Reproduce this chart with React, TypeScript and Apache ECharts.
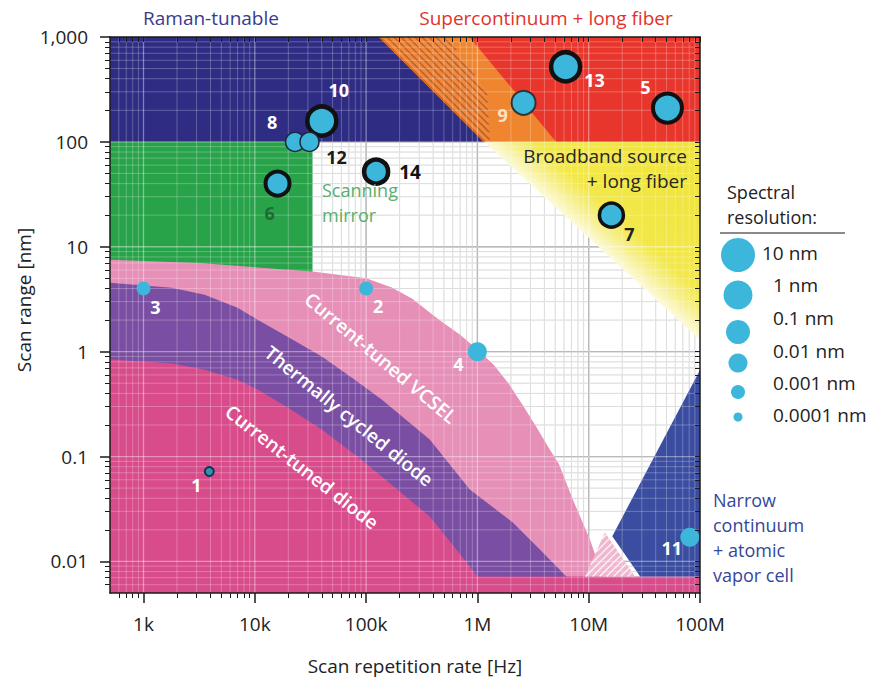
import React, { useEffect, useRef } from 'react';
import * as echarts from 'echarts';

// ---------- axes ----------
const xMin = 500;
const xMax = 1e8;
const yMin = 0.005;
const yMax = 1000;
const xTickValues = [1e3, 1e4, 1e5, 1e6, 1e7, 1e8];
const xTickLabels = ['1k', '10k', '100k', '1M', '10M', '100M'];
const yTickValues = [0.01, 0.1, 1, 10, 100, 1000];
const yTickLabels = ['0.01', '0.1', '1', '10', '100', '1,000'];

// ---------- data points (rate Hz, range nm, resolution nm) ----------
const pointIds = ['1', '2', '3', '4', '5', '6', '7', '8', '9', '10', '11', '12', '13', '14'];
const pointRateHz = [3.9e3, 1.0e5, 1.0e3, 1.0e6, 5.1e7, 1.6e4, 1.6e7, 2.3e4, 2.6e6, 4.0e4, 8.1e7, 3.1e4, 6.2e6, 1.23e5];
const pointRangeNm = [0.072, 4, 4, 1.0, 210, 40, 20, 100, 236, 158, 0.017, 100, 520, 52];
const pointResolutionNm = [1e-4, 1e-3, 1e-3, 1e-2, 1, 0.1, 0.1, 0.01, 0.1, 1, 0.01, 0.01, 1, 0.1];

// ---------- legend ----------
const legendResolutionNm = [10, 1, 0.1, 0.01, 0.001, 0.0001];
const legendLabels = ['10 nm', '1 nm', '0.1 nm', '0.01 nm', '0.001 nm', '0.0001 nm'];

// ---------- regions (vertices in Hz, nm) ----------
const mirrorRegion = [[500, 3], [3.3e4, 3], [3.3e4, 100], [500, 100]];
const ramanRegion = [[500, 100], [500, 1000], [1.3e5, 1000], [1.15e6, 100]];
const supercontinuumRegion = [[1.3e5, 1000], [1e8, 1000], [1e8, 100], [1.15e6, 100]];
const orangeBand = [[1.3e5, 1000], [8.5e5, 1000], [5.1e6, 100], [1.15e6, 100]];
const orangeHatch = [[1.3e5, 1000], [5.3e5, 1000], [1.22e6, 293], [1.29e6, 100], [1.15e6, 100]];
const broadbandRegion = [[1.15e6, 100], [1e8, 100], [1e8, 1.3]];
const vcselTop = [[500, 7.5], [3.2e3, 7.0], [3.3e4, 5.8], [1e5, 5.0], [1.7e5, 4.1], [2.6e5, 3.2], [4.55e5, 2.0], [7.0e5, 1.45], [1.0e6, 1.05], [1.4e6, 0.75], [1.9e6, 0.5], [2.6e6, 0.3], [3.4e6, 0.19], [4.4e6, 0.12], [5.4e6, 0.085], [7.2e6, 0.039], [1.03e7, 0.016], [1.34e7, 0.0071]];
const thermalTop = [[500, 4.54], [1.79e3, 4.07], [3.54e3, 3.49], [7.0e3, 2.62], [1.06e4, 2.02], [1.97e4, 1.39], [4.0e4, 0.9], [7.9e4, 0.54], [1.38e5, 0.35], [3.73e5, 0.145], [8.55e5, 0.0485], [2.08e6, 0.0235], [3.64e6, 0.013], [6.3e6, 0.0072]];
const diodeTop = [[500, 0.84], [1.79e3, 0.769], [3.54e3, 0.674], [7.0e3, 0.541], [1.06e4, 0.435], [1.97e4, 0.293], [4.0e4, 0.181], [7.9e4, 0.1045], [1.38e5, 0.0645], [3.73e5, 0.0268], [6.27e5, 0.0136], [1.0e6, 0.0072]];
const vaporRegion = [[1e8, 0.67], [1.63e7, 0.0174], [2.9e7, 0.0072], [1e8, 0.0072]];
const vaporHatch = [[1.4e7, 0.0189], [2.6e7, 0.0072], [9.25e6, 0.0072]];

// ---------- styles ----------
const FONT = '"Open Sans", "Noto Sans", sans-serif';
const BUBBLE = '#3cb6db';
const L = Math.log10;

const pointLook: Record<string, any> = {
  '1': { fill: '#2b97a6', ring: '#1c2c5c', bw: 2, off: [-13, 13] },
  '2': { off: [12, 17] },
  '3': { off: [12, 18] },
  '4': { off: [-19, 12] },
  '5': { ring: '#111', bw: 4, off: [-22, -21] },
  '6': { ring: '#111', bw: 4, off: [-8, 29], lc: '#1e6a34' },
  '7': { ring: '#111', bw: 3.5, off: [18, 19], lc: '#222' },
  '8': { ring: '#1a2a40', bw: 1.5, off: [-23, -20] },
  '9': { ring: '#333', bw: 2, off: [-21, 12], lc: '#fde2c6' },
  '10': { ring: '#111', bw: 4.5, off: [17, -31] },
  '11': { off: [-18, 11] },
  '12': { ring: '#1a2a40', bw: 1.5, off: [27, 15], lc: '#1a1a1a' },
  '13': { ring: '#111', bw: 4.5, off: [29, 13] },
  '14': { ring: '#111', bw: 4.5, off: [34, 0], lc: '#111', size: 19 },
};

function radiusFor(res: number) {
  return 4.5 + 2.5 * (L(res) + 4);
}

function hatchLines(pts: number[][], a: number, b: number, spacing: number) {
  const vals = pts.map((p) => a * p[0] + b * p[1]);
  const lo = Math.min(...vals);
  const hi = Math.max(...vals);
  const out: number[][][] = [];
  for (let c = Math.ceil(lo / spacing) * spacing; c <= hi; c += spacing) {
    const hits: number[][] = [];
    for (let i = 0; i < pts.length; i++) {
      const p = pts[i];
      const q = pts[(i + 1) % pts.length];
      const fp = a * p[0] + b * p[1] - c;
      const fq = a * q[0] + b * q[1] - c;
      if ((fp <= 0 && fq > 0) || (fp > 0 && fq <= 0)) {
        const t = fp / (fp - fq);
        hits.push([p[0] + t * (q[0] - p[0]), p[1] + t * (q[1] - p[1])]);
      }
    }
    if (hits.length >= 2) {
      hits.sort((m, n) => m[0] - n[0]);
      out.push([hits[0], hits[hits.length - 1]]);
    }
  }
  return out;
}

function regionSeries(verts: number[][], fill: any, hatch?: any) {
  return {
    type: 'custom',
    coordinateSystem: 'cartesian2d',
    xAxisIndex: 0,
    yAxisIndex: 0,
    silent: true,
    z: 2,
    data: [[L(xMin), L(yMin)]],
    renderItem: (params: any, api: any) => {
      const pts = verts.map((v) => api.coord([L(v[0]), L(v[1])]));
      const children: any[] = [{ type: 'polygon', shape: { points: pts }, style: { fill, stroke: 'none' } }];
      if (hatch) {
        for (const [p, q] of hatchLines(pts, hatch.a, hatch.b, hatch.spacing)) {
          children.push({
            type: 'line',
            shape: { x1: p[0], y1: p[1], x2: q[0], y2: q[1] },
            style: { stroke: hatch.color, lineWidth: hatch.width },
          });
        }
      }
      return { type: 'group', children };
    },
  };
}

const xMinorValues: number[] = [];
for (let d = 2; d <= 7; d++) for (let k = 2; k <= 9; k++) {
  const v = k * Math.pow(10, d);
  if (v > xMin && v < xMax) xMinorValues.push(v);
}
const yMinorValues: number[] = [];
for (let d = -3; d <= 2; d++) for (let k = 2; k <= 9; k++) {
  const v = k * Math.pow(10, d);
  if (v > yMin * 1.0001 && v < yMax) yMinorValues.push(v);
}

function gridSeries(minorColor: string, majorColor: string, z: number) {
  return {
    type: 'custom',
    coordinateSystem: 'cartesian2d',
    xAxisIndex: 0,
    yAxisIndex: 0,
    silent: true,
    z,
    data: [[L(xMin), L(yMin)]],
    renderItem: (params: any, api: any) => {
      const children: any[] = [];
      const vline = (v: number, color: string, w: number) => {
        const p1 = api.coord([L(v), L(yMin)]);
        const p2 = api.coord([L(v), L(yMax)]);
        children.push({ type: 'line', shape: { x1: p1[0], y1: p1[1], x2: p2[0], y2: p2[1] }, style: { stroke: color, lineWidth: w } });
      };
      const hline = (v: number, color: string, w: number) => {
        const p1 = api.coord([L(xMin), L(v)]);
        const p2 = api.coord([L(xMax), L(v)]);
        children.push({ type: 'line', shape: { x1: p1[0], y1: p1[1], x2: p2[0], y2: p2[1] }, style: { stroke: color, lineWidth: w } });
      };
      xMinorValues.forEach((v) => vline(v, minorColor, 1));
      yMinorValues.forEach((v) => hline(v, minorColor, 1));
      xTickValues.filter((v) => v < xMax).forEach((v) => vline(v, majorColor, 1.3));
      yTickValues.filter((v) => v < yMax).forEach((v) => hline(v, majorColor, 1.3));
      return { type: 'group', children };
    },
  };
}

const fmt = (vals: number[], labels: string[]) => (v: number) => {
  const i = vals.findIndex((t) => Math.abs(L(t) - v) < 1e-6);
  return i >= 0 ? labels[i] : '';
};

function buildOption() {
  const axisLineStyle = { color: '#1a1a1a', width: 1.5 };
  const xBase = { type: 'value', min: L(xMin), max: L(xMax), gridIndex: 0, splitLine: { show: false }, z: 10 };
  const yBase = { type: 'value', min: L(yMin), max: L(yMax), gridIndex: 0, splitLine: { show: false }, z: 10 };
  const xMajor = xTickValues.map(L);
  const yMajor = yTickValues.map(L);
  const xMinor = xMinorValues.map(L);
  const yMinor = yMinorValues.map(L);

  const yellow = new echarts.graphic.LinearGradient(0, 1, 1, 0, [
    { offset: 0.5, color: '#fcfadb' },
    { offset: 0.555, color: '#f7f094' },
    { offset: 0.62, color: '#f2e84a' },
    { offset: 1, color: '#efe336' },
  ]);

  const txt = (text: string, x: number, y: number, o: any = {}) => ({
    type: 'text',
    x,
    y,
    z: 50,
    rotation: o.rot || 0,
    silent: true,
    style: {
      text,
      fill: o.color || '#222',
      fontSize: o.size || 19,
      lineHeight: o.lh || 20,
      fontFamily: FONT,
      fontWeight: o.weight || 'normal',
      align: o.align || 'center',
      verticalAlign: 'middle',
    },
  });
  const deg = Math.PI / 180;

  const graphics: any[] = [
    txt('Raman-tunable', 211, 18, { color: '#3a3a8e' }),
    txt('Supercontinuum + long fiber', 546, 18, { color: '#e2322b' }),
    txt('Broadband source', 687, 156, { align: 'right', color: '#262626' }),
    txt('+ long fiber', 687, 181, { align: 'right', color: '#262626' }),
    txt('Scanning', 322, 190, { align: 'left', color: '#5aae6b', size: 18 }),
    txt('mirror', 322, 215, { align: 'left', color: '#5aae6b', size: 18 }),
    txt('Current-tuned VCSEL', 381, 358, { rot: -40 * deg, color: '#ffffff', weight: 600 }),
    txt('Thermally cycled diode', 349, 416, { rot: -39 * deg, color: '#ffffff', weight: 600 }),
    txt('Current-tuned diode', 302, 467, { rot: -38 * deg, color: '#ffffff', weight: 600 }),
    txt('Narrow', 713, 500, { align: 'left', color: '#34479a', size: 18 }),
    txt('continuum', 713, 525, { align: 'left', color: '#34479a', size: 18 }),
    txt('+ atomic', 713, 550, { align: 'left', color: '#34479a', size: 18 }),
    txt('vapor cell', 713, 575, { align: 'left', color: '#34479a', size: 18 }),
    txt('Spectral', 727, 192, { align: 'left', color: '#222', size: 18 }),
    txt('resolution:', 727, 217, { align: 'left', color: '#222', size: 18 }),
    { type: 'line', z: 50, silent: true, shape: { x1: 720, y1: 233, x2: 845, y2: 233 }, style: { stroke: '#8a8a8a', lineWidth: 2 } },
    txt('Scan repetition rate [Hz]', 415, 666, { color: '#222' }),
    txt('Scan range [nm]', 24, 300, { rot: 90 * deg, color: '#222' }),
  ];
  const legendCircleY = [255, 295, 332, 363, 392, 417];
  const legendTextY = [253, 285, 318, 351, 383, 415];
  legendResolutionNm.forEach((r, i) => {
    graphics.push({
      type: 'circle',
      z: 50,
      silent: true,
      shape: { cx: 738, cy: legendCircleY[i], r: radiusFor(r) },
      style: { fill: BUBBLE },
    });
    graphics.push(txt(legendLabels[i], i === 0 ? 762 : 773, legendTextY[i], { align: 'left', color: '#222' }));
  });

  return {
    animation: false,
    backgroundColor: '#ffffff',
    grid: { left: 110, right: 180, top: 37, bottom: 86, containLabel: false, outerBoundsMode: 'none' },
    xAxis: [
      {
        ...xBase,
        position: 'bottom',
        axisLine: { show: true, onZero: false, lineStyle: axisLineStyle },
        axisTick: { show: true, customValues: xMajor, length: 10, lineStyle: axisLineStyle },
        axisLabel: { show: true, customValues: xMajor, formatter: fmt(xTickValues, xTickLabels), margin: 21, fontSize: 19, color: '#222', fontFamily: FONT },
      },
      {
        ...xBase,
        position: 'bottom',
        axisLine: { show: false, onZero: false },
        axisTick: { show: true, customValues: xMinor, length: 5, lineStyle: { color: '#1a1a1a', width: 1 } },
        axisLabel: { show: false },
      },
      {
        ...xBase,
        position: 'top',
        axisLine: { show: true, onZero: false, lineStyle: axisLineStyle },
        axisTick: { show: true, inside: true, customValues: xMinor.concat(xMajor), length: 5, lineStyle: { color: '#1a1a1a', width: 1 } },
        axisLabel: { show: false },
      },
    ],
    yAxis: [
      {
        ...yBase,
        position: 'left',
        axisLine: { show: true, onZero: false, lineStyle: axisLineStyle },
        axisTick: { show: true, customValues: yMajor, length: 10, lineStyle: axisLineStyle },
        axisLabel: { show: true, customValues: yMajor, formatter: fmt(yTickValues, yTickLabels), margin: 22, fontSize: 19, color: '#222', fontFamily: FONT },
      },
      {
        ...yBase,
        position: 'left',
        axisLine: { show: false, onZero: false },
        axisTick: { show: true, customValues: yMinor, length: 5, lineStyle: { color: '#1a1a1a', width: 1 } },
        axisLabel: { show: false },
      },
      {
        ...yBase,
        position: 'right',
        axisLine: { show: true, onZero: false, lineStyle: axisLineStyle },
        axisTick: { show: true, inside: true, customValues: yMinor.concat(yMajor), length: 5, lineStyle: { color: '#1a1a1a', width: 1 } },
        axisLabel: { show: false },
      },
    ],
    series: [
      gridSeries('#d2d2d2', '#8c8c8c', 1),
      regionSeries(mirrorRegion, '#29a34a'),
      regionSeries(ramanRegion, '#2e2c83'),
      regionSeries(supercontinuumRegion, '#e8362d'),
      regionSeries(orangeBand, '#f0852f'),
      regionSeries(orangeHatch, '#ee8a3a', { a: 1, b: -1, spacing: 7, color: '#c45f2a', width: 1.6 }),
      regionSeries(broadbandRegion, yellow),
      regionSeries(vcselTop.concat([[1.34e7, yMin], [500, yMin]]), '#e690b8'),
      regionSeries(thermalTop.concat([[6.3e6, yMin], [500, yMin]]), '#7a4fa3'),
      regionSeries(diodeTop.concat([[1e8, 0.0072], [1e8, yMin], [500, yMin]]), '#d84c8b'),
      regionSeries(vaporRegion, '#3b4da0'),
      regionSeries(vaporHatch, '#eeb6cf', { a: 1, b: 1, spacing: 7, color: 'rgba(255,255,255,0.8)', width: 1.4 }),
      gridSeries('rgba(255,255,255,0.25)', 'rgba(255,255,255,0.4)', 3),
      {
        type: 'scatter',
        xAxisIndex: 0,
        yAxisIndex: 0,
        z: 5,
        silent: true,
        symbolSize: (val: number[]) => 2 * radiusFor(val[2]),
        data: pointIds.map((id, i) => {
          const s = pointLook[id];
          return {
            value: [L(pointRateHz[i]), L(pointRangeNm[i]), pointResolutionNm[i]],
            itemStyle: { color: s.fill || BUBBLE, borderColor: s.ring || 'rgba(0,0,0,0)', borderWidth: s.bw || 0, opacity: 1 },
            label: {
              show: true,
              position: 'inside',
              formatter: id,
              offset: s.off,
              color: s.lc || '#ffffff',
              fontSize: s.size || 18,
              fontWeight: 'bold',
              fontFamily: FONT,
            },
          };
        }),
      },
    ],
    graphic: { elements: graphics },
  };
}

export default function App() {
  const ref = useRef<HTMLDivElement>(null);
  useEffect(() => {
    const chart = echarts.init(ref.current as HTMLDivElement, undefined, { renderer: 'svg' });
    chart.setOption(buildOption() as any);
    return () => chart.dispose();
  }, []);
  return (
    <div
      ref={ref}
      style={{ position: 'fixed', left: 0, top: 0, width: 880, height: 679, background: '#ffffff' }}
    />
  );
}
